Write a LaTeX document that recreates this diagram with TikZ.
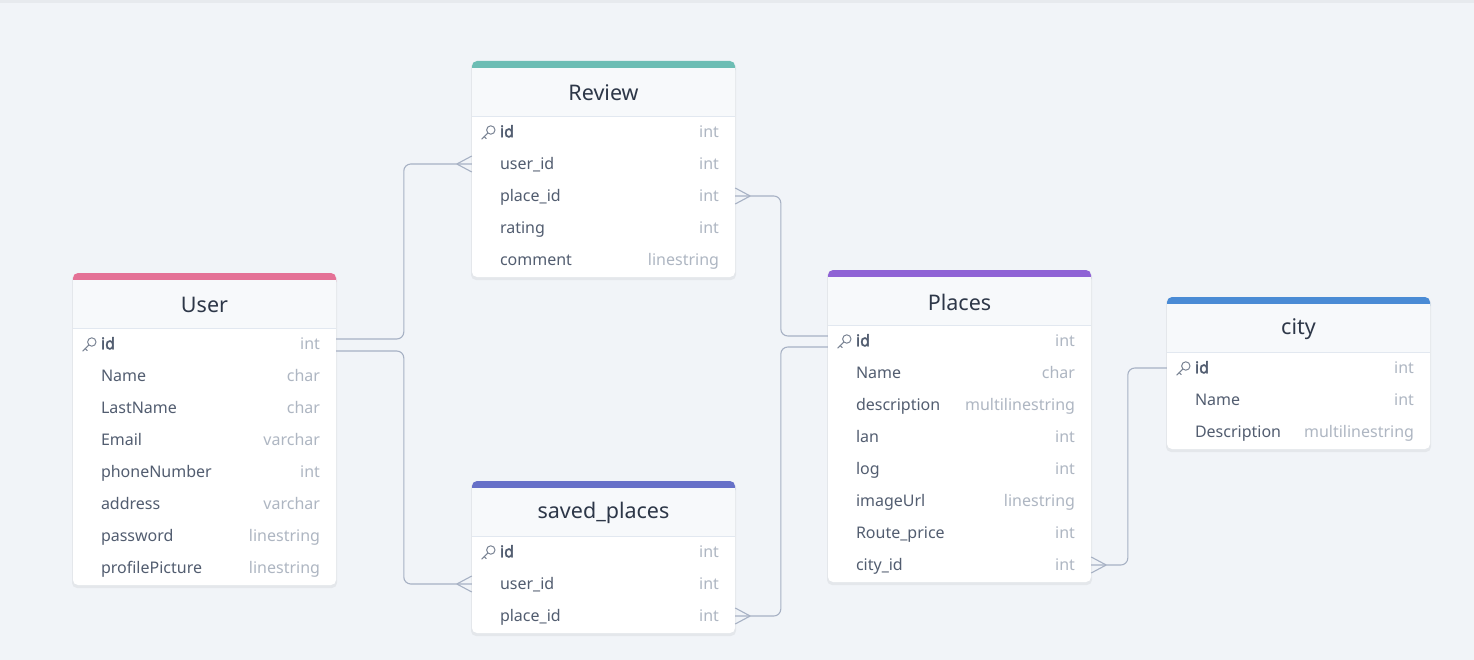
\documentclass[tikz,border=0pt]{standalone}
\usepackage{fontspec}
\setmainfont{Noto Sans}[AutoFakeBold=2.5]
\usetikzlibrary{calc}
\usetikzlibrary{positioning}
\usepackage{xcolor}

\definecolor{canvas}{HTML}{F1F4F8}
\definecolor{headfill}{HTML}{F7F9FB}
\definecolor{cardline}{HTML}{E2E8F0}
\definecolor{titlegray}{HTML}{2D3748}
\definecolor{namegray}{HTML}{525D70}
\definecolor{typegray}{HTML}{AEB6C2}
\definecolor{linegray}{HTML}{A7B1C4}
\definecolor{keygray}{HTML}{7A8494}
\definecolor{userpink}{HTML}{E47196}
\definecolor{reviewteal}{HTML}{6CBDB4}
\definecolor{placespurple}{HTML}{8F63D5}
\definecolor{cityblue}{HTML}{4A8BD5}
\definecolor{savedindigo}{HTML}{6670C8}

\tikzset{
  field/.style={inner sep=0pt, minimum height=32pt, minimum width=263pt},
  fieldname/.style={anchor=west, inner sep=0pt, text height=12.5pt, text depth=2pt,
    text=namegray, font=\fontsize{16}{19}\selectfont},
  fieldtype/.style={anchor=east, inner sep=0pt, text height=12.5pt, text depth=2pt,
    text=typegray, font=\fontsize{16}{19}\selectfont},
  tabletitle/.style={inner sep=0pt, text=titlegray, font=\fontsize{21.5}{25}\selectfont},
  rel/.style={draw=linegray, line width=1.1pt, rounded corners=7pt},
  crow/.style={draw=linegray, line width=1.1pt},
  keyicon/.style={draw=keygray, line width=1pt, line cap=round},
}

% #1 name, #2 left, #3 top, #4 colour, #5 title, #6 rows, #7 fields
\newcommand{\erdtable}[7]{%
  \pgfmathsetmacro{\tblbottom}{#3+56+32*#6}
  \fill[black, opacity=0.05, rounded corners=5pt] (#2-1,#3+1) rectangle (#2+264,\tblbottom+3);
  \fill[white, rounded corners=5pt] (#2,#3) rectangle (#2+263,\tblbottom);
  \fill[#4, rounded corners=5pt] (#2,#3) rectangle (#2+263,#3+14);
  \fill[headfill] (#2,#3+7) rectangle (#2+263,#3+55);
  \draw[cardline, line width=0.8pt] (#2,#3+55) -- (#2+263,#3+55);
  \node[tabletitle] (#1-title) at (#2+131.5,#3+32) {#5};
  \foreach \fname/\ftype [count=\i] in {#7}
  {
    \node[field] (#1-\i) at (#2+131.5,#3+55+32*\i-16) {};
    \node[fieldname] (#1-\i-name) at ([xshift=28pt]#1-\i.west) {\ifnum\i=1 \bfseries\fi\fname};
    \node[fieldtype] (#1-\i-type) at ([xshift=-16pt]#1-\i.east) {\ftype};
  }
  % key
  \coordinate (#1-key) at ([xshift=16pt,yshift=-1pt]#1-1.west);
  \draw[keyicon] ($(#1-key)+(3,-3)$) circle (4.2pt);
  \draw[keyicon] ($(#1-key)+(0,0)$) -- ($(#1-key)+(-6,6)$);
  \draw[keyicon] ($(#1-key)+(-3.6,3.6)$) -- ($(#1-key)+(-1.6,5.6)$);
}

\newcommand{\crowwest}[1]{%
  \draw[crow] ($(#1)+(-15,0)$) -- ($(#1)+(0,-8)$) ($(#1)+(-15,0)$) -- ($(#1)+(0,8)$);}
\newcommand{\croweast}[1]{%
  \draw[crow] ($(#1)+(15,0)$) -- ($(#1)+(0,-8)$) ($(#1)+(15,0)$) -- ($(#1)+(0,8)$);}

\begin{document}
\begin{tikzpicture}[x=1pt,y=-1pt]

        % Canvas
        \fill[canvas] (0,0) rectangle (1474,660);
        \useasboundingbox (0,0) rectangle (1474,660);
        \fill[black, opacity=0.04] (0,0) rectangle (1474,3);

        % Tables
        \erdtable{user}{73}{273}{userpink}{User}{8}{id/int, Name/char, LastName/char,
          Email/varchar, phoneNumber/int, address/varchar, password/linestring,
          profilePicture/linestring}
        \erdtable{review}{472}{61}{reviewteal}{Review}{5}{id/int, user\_id/int,
          place\_id/int, rating/int, comment/linestring}
        \erdtable{saved}{472}{481}{savedindigo}{saved\_places}{3}{id/int,
          user\_id/int, place\_id/int}
        \erdtable{places}{828}{270}{placespurple}{Places}{8}{id/int, Name/char,
          description/multilinestring, lan/int, log/int, imageUrl/linestring,
          Route\_price/int, city\_id/int}
        \erdtable{city}{1167}{297}{cityblue}{city}{3}{id/int, Name/int,
          Description/multilinestring}

        % Relations
        \draw[rel] ($(user-1.east)+(0,-5)$) -| ($(review-2.west)+(-68,0)$) -- (review-2.west);
        \draw[rel] ($(user-1.east)+(0,7)$) -| ($(saved-2.west)+(-68,0)$) -- (saved-2.west);
        \draw[rel] (review-3.east) -| ($(places-1.west)+(-47,-5)$) -- ($(places-1.west)+(0,-5)$);
        \draw[rel] (saved-3.east) -| ($(places-1.west)+(-47,6)$) -- ($(places-1.west)+(0,6)$);
        \draw[rel] (places-8.east) -| ($(city-1.west)+(-39,0)$) -- (city-1.west);

        % Crow's feet
        \crowwest{review-2.west}
        \crowwest{saved-2.west}
        \croweast{review-3.east}
        \croweast{saved-3.east}
        \croweast{places-8.east}
    \end{tikzpicture}
\end{document}
